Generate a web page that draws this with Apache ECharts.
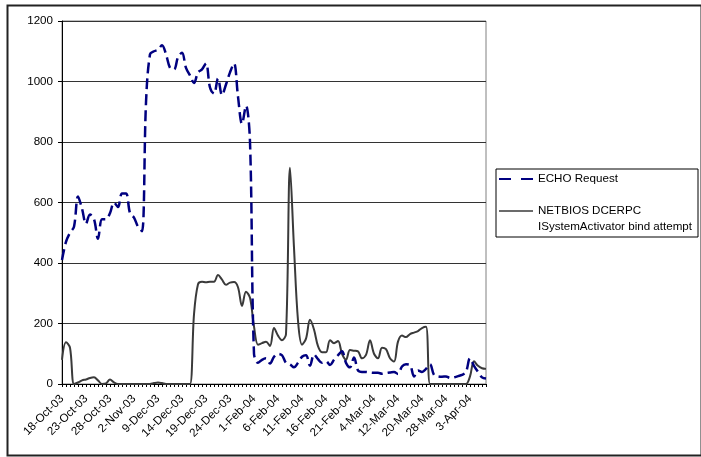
<!DOCTYPE html>
<html>
<head>
<meta charset="utf-8">
<script src="https://cdn.jsdelivr.net/npm/echarts@6/dist/echarts.min.js"></script>
<style>
  html, body { margin: 0; padding: 0; background: #ffffff; }
  #chart { width: 701px; height: 457px; }
</style>
</head>
<body>
<div id="chart"></div>
<script>
// Date labels shown along the category axis (one every 6 samples)
const tickLabels = ['18-Oct-03', '23-Oct-03', '28-Oct-03', '2-Nov-03', '9-Dec-03', '14-Dec-03',
  '19-Dec-03', '24-Dec-03', '1-Feb-04', '6-Feb-04', '11-Feb-04', '16-Feb-04', '21-Feb-04',
  '4-Mar-04', '12-Mar-04', '20-Mar-04', '28-Mar-04', '3-Apr-04'];
const labelStep = 6;

// ECHO Request counts per sample
const echoRequest = [
  410, 470, 500, 520, 620, 580, 530, 560, 545, 480,
  545, 545, 565, 600, 585, 630, 630, 565, 550, 520,
  505, 930, 1090, 1100, 1105, 1120, 1090, 1045, 1040, 1080,
  1095, 1045, 1020, 995, 1030, 1040, 1060, 980, 960, 1010,
  955, 990, 1030, 1060, 950, 860, 920, 800,
  100, 70, 80, 85, 68, 90, 100, 95, 70, 65,
  55, 70, 90, 95, 60, 98, 82, 70, 75, 63,
  80, 95, 108, 70, 55, 88, 45, 40, 40, 38,
  37, 37, 34, 36, 38, 40, 33, 58, 65, 63,
  25, 45, 40, 50, 65, 30, 25, 24, 25, 20,
  22, 26, 30, 40, 85, 60, 40, 22, 18
];

// NETBIOS DCERPC ISystemActivator bind attempt counts per sample
const netbiosBind = [
  80, 138, 120, 0, 5, 12, 15, 20, 22, 12,
  0, 2, 15, 5, 0, 0, 0, 0, 0, 0,
  0, 0, 0, 3, 5, 3, 0, 0, 0, 0,
  0, 0, 0, 230, 330, 338, 336, 338, 338, 360,
  345, 328, 335, 337, 320, 258, 305, 285,
  190, 130, 135, 140, 126, 185, 160, 145, 165, 715,
  450, 210, 130, 150, 212, 180, 125, 105, 105, 145,
  135, 142, 100, 80, 112, 110, 108, 85, 96, 145,
  100, 85, 120, 115, 85, 74, 140, 160, 155, 165,
  170, 175, 185, 189, 0, 0, 0, 0, 0, 0,
  0, 0, 0, 0, 25, 75, 60, 52, 50
];

const seriesNames = ['ECHO Request', 'NETBIOS DCERPC\nISystemActivator bind attempt'];

// one category per sample; only every labelStep-th carries a date
const categories = echoRequest.map((_, i) => (i % labelStep === 0 ? (tickLabels[i / labelStep] || '') : ''));

const FONT = '"Liberation Sans", Arial, sans-serif';
const FS = 11.6;
const chart = echarts.init(document.getElementById('chart'), null, { renderer: 'canvas' });

chart.setOption({
  backgroundColor: '#ffffff',
  animation: false,
  textStyle: { fontFamily: FONT },
  grid: {
    left: 62, top: 21, right: 215, bottom: 73,
    show: true, borderColor: '#808080', borderWidth: 1, backgroundColor: 'transparent'
  },
  graphic: [{
    type: 'rect', left: 5, top: 3, z: -1,
    shape: { width: 694, height: 450 },
    style: { fill: 'none', stroke: '#222', lineWidth: 2 }
  }],
  legend: {
    orient: 'vertical',
    left: 496, top: 169,
    padding: [2, 6, 2, 2],
    itemGap: 0,
    itemWidth: 34, itemHeight: 12,
    borderColor: '#000', borderWidth: 1, backgroundColor: '#fff',
    data: [
      { name: seriesNames[0], lineStyle: { type: [12, 10] } },
      { name: seriesNames[1], lineStyle: { type: 'solid', width: 1.5 } }
    ],
    // the blank first line keeps the two-line entry's key level with its first line
    formatter: name => (name === seriesNames[1] ? ' \n' + name : name),
    itemStyle: { opacity: 0 },
    textStyle: { fontFamily: FONT, fontSize: FS, color: '#000', lineHeight: 16 }
  },
  xAxis: {
    type: 'category',
    data: categories,
    boundaryGap: false,
    axisLine: { lineStyle: { color: '#000', width: 1 } },
    axisTick: { show: true, interval: 0, length: 3, lineStyle: { color: '#000' } },
    axisLabel: {
      interval: labelStep - 1, rotate: 45, margin: 13,
      fontFamily: FONT, fontSize: FS, color: '#000'
    },
    splitLine: { show: false }
  },
  yAxis: {
    type: 'value',
    min: 0, max: 1200, interval: 200,
    axisLine: { show: true, lineStyle: { color: '#000', width: 1 } },
    axisTick: { show: true, length: 4, lineStyle: { color: '#000' } },
    axisLabel: {
      margin: 9, fontFamily: FONT, fontSize: FS, color: '#000',
      formatter: v => String(v)
    },
    splitLine: { show: true, lineStyle: { color: '#333', width: 1 } }
  },
  series: [
    {
      name: seriesNames[0],
      type: 'line',
      data: echoRequest,
      smooth: 0.35,
      symbol: 'none',
      z: 3,
      lineStyle: { color: '#000080', width: 2.5, type: [11, 5] },
      itemStyle: { color: '#000080' }
    },
    {
      name: seriesNames[1],
      type: 'line',
      data: netbiosBind,
      smooth: 0.35,
      symbol: 'none',
      z: 2,
      lineStyle: { color: '#3a3a3a', width: 2 },
      itemStyle: { color: '#3a3a3a' }
    }
  ]
});
</script>
</body>
</html>
